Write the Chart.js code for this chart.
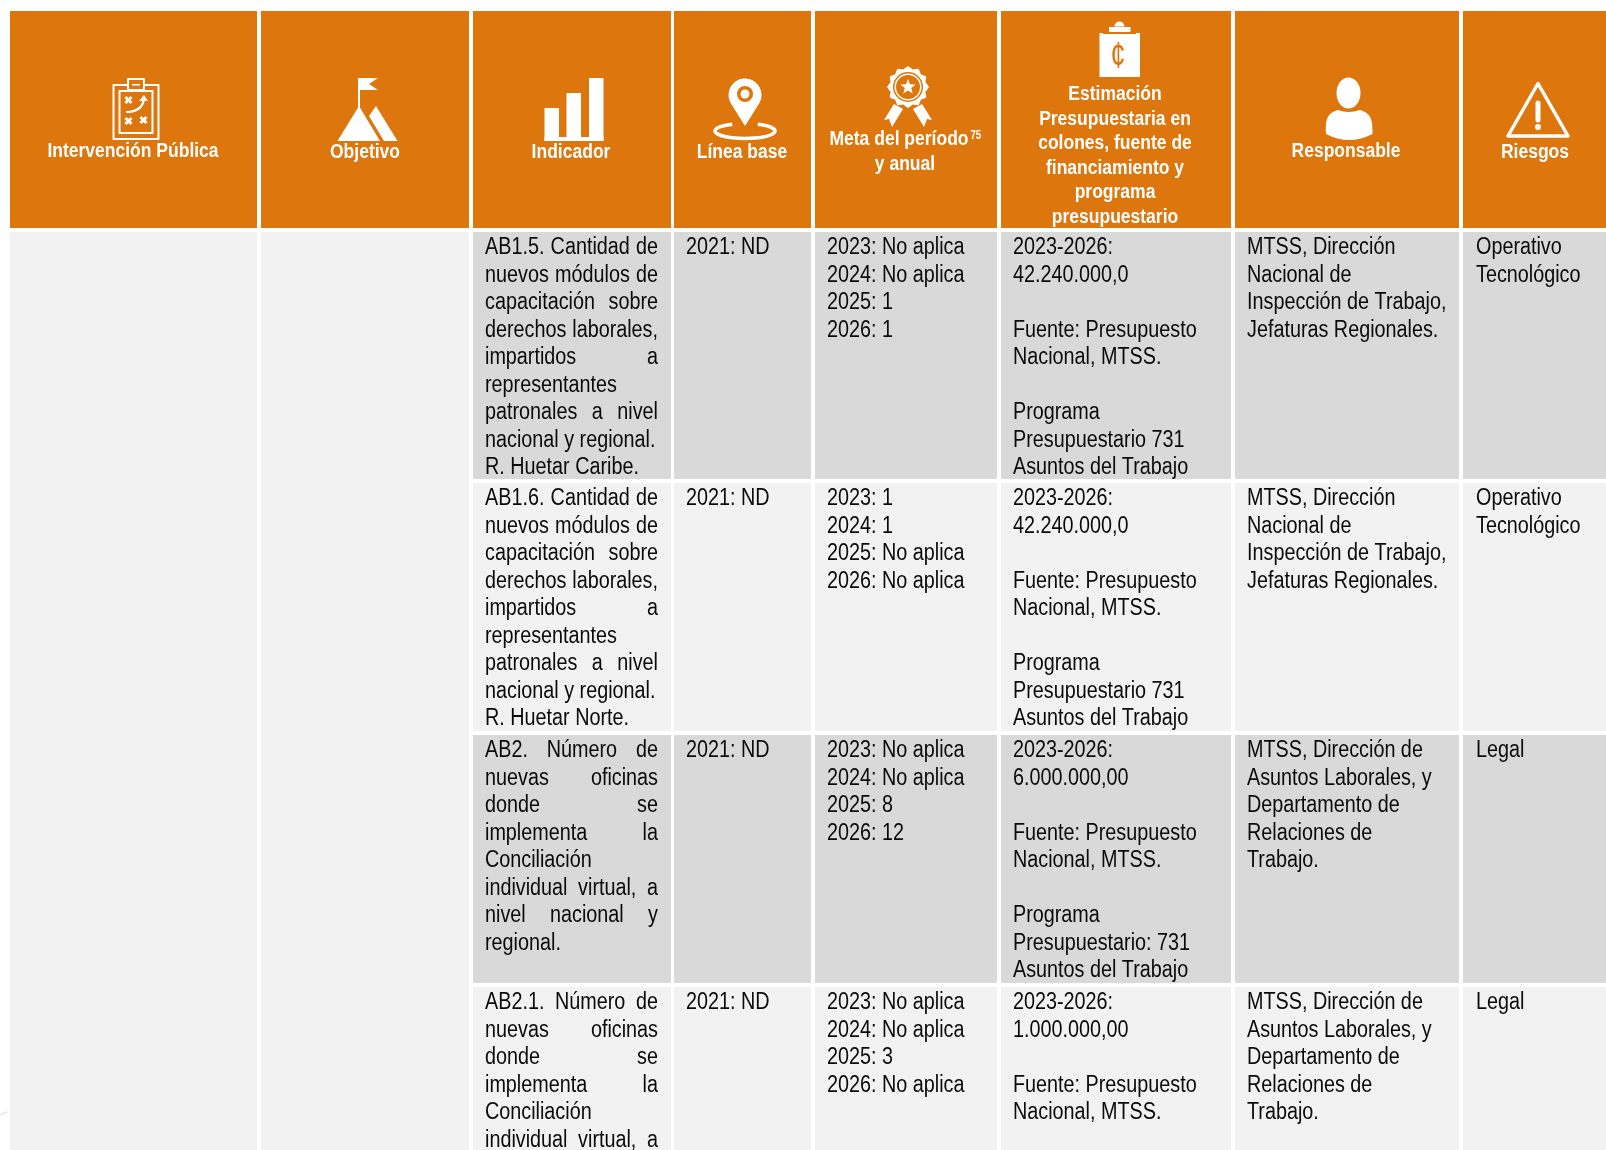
<!DOCTYPE html>
<html lang="es">
<head>
<meta charset="utf-8">
<title>Intervención Pública</title>
<script src="https://cdn.jsdelivr.net/npm/chart.js@4/dist/chart.umd.js"></script>
<style>
  html, body { margin: 0; padding: 0; background: #fff; }
  #wrap { width: 1606px; height: 1150px; overflow: hidden; }
</style>
</head>
<body>
<div id="wrap"><canvas id="tabla" width="1606" height="1150"></canvas></div>
<script>
// Bordes de columnas y filas, en unidades de los ejes
const columnEdges = [[10, 257], [261, 469], [473, 671], [674, 811], [815, 997], [1001, 1231], [1235, 1459], [1463, 1606]];
const rowEdges = [[11, 228], [232, 479], [483, 731], [735, 983], [987, 1150]];
const mergedRowEdges = [[11, 228], [232, 1150]];
const rowFills = ["#DC760D", "#D9D9D9", "#F2F2F2", "#D9D9D9", "#F2F2F2"];
const mergedFills = ["#DC760D", "#F2F2F2"];

const headerLabels = [
  ["Intervención Pública"],
  ["Objetivo"],
  ["Indicador"],
  ["Línea base"],
  ["Meta del período", "y anual"],
  ["Estimación", "Presupuestaria en", "colones, fuente de", "financiamiento y", "programa", "presupuestario"],
  ["Responsable"],
  ["Riesgos"],
];

const indicador = [
  ["AB1.5. Cantidad de", "nuevos módulos de", "capacitación sobre", "derechos laborales,", "impartidos a", "representantes", "patronales a nivel", "nacional y regional.", "R. Huetar Caribe."],
  ["AB1.6. Cantidad de", "nuevos módulos de", "capacitación sobre", "derechos laborales,", "impartidos a", "representantes", "patronales a nivel", "nacional y regional.", "R. Huetar Norte."],
  ["AB2. Número de", "nuevas oficinas", "donde se", "implementa la", "Conciliación", "individual virtual, a", "nivel nacional y", "regional."],
  ["AB2.1. Número de", "nuevas oficinas", "donde se", "implementa la", "Conciliación", "individual virtual, a"],
];
const justifiedLines = [[0, 1, 2, 3, 4, 6], [0, 1, 2, 3, 4, 6], [0, 1, 2, 3, 5, 6], [0, 1, 2, 3, 5]];
const lineaBase = [["2021: ND"], ["2021: ND"], ["2021: ND"], ["2021: ND"]];
const metas = [
  ["2023: No aplica", "2024: No aplica", "2025: 1", "2026: 1"],
  ["2023: 1", "2024: 1", "2025: No aplica", "2026: No aplica"],
  ["2023: No aplica", "2024: No aplica", "2025: 8", "2026: 12"],
  ["2023: No aplica", "2024: No aplica", "2025: 3", "2026: No aplica"],
];
const estimacion = [
  ["2023-2026:", "42.240.000,0", "", "Fuente: Presupuesto", "Nacional, MTSS.", "", "Programa", "Presupuestario 731", "Asuntos del Trabajo"],
  ["2023-2026:", "42.240.000,0", "", "Fuente: Presupuesto", "Nacional, MTSS.", "", "Programa", "Presupuestario 731", "Asuntos del Trabajo"],
  ["2023-2026:", "6.000.000,00", "", "Fuente: Presupuesto", "Nacional, MTSS.", "", "Programa", "Presupuestario: 731", "Asuntos del Trabajo"],
  ["2023-2026:", "1.000.000,00", "", "Fuente: Presupuesto", "Nacional, MTSS."],
];
const responsable = [
  ["MTSS, Dirección", "Nacional de", "Inspección de Trabajo,", "Jefaturas Regionales."],
  ["MTSS, Dirección", "Nacional de", "Inspección de Trabajo,", "Jefaturas Regionales."],
  ["MTSS, Dirección de", "Asuntos Laborales, y", "Departamento de", "Relaciones de", "Trabajo."],
  ["MTSS, Dirección de", "Asuntos Laborales, y", "Departamento de", "Relaciones de", "Trabajo."],
];
const riesgos = [
  ["Operativo", "Tecnológico"],
  ["Operativo", "Tecnológico"],
  ["Legal"],
  ["Legal"],
];

const FONT = '"Liberation Sans", Arial, sans-serif';
const ORANGE = "#DC760D";
const BODY_NARROW = 0.86;
const HEAD_NARROW = 0.875;
const bodyColumns = [[2, indicador], [3, lineaBase], [4, metas], [5, estimacion], [6, responsable], [7, riesgos]];
const headerBaselines = [[157], [157.5], [157.5], [157.5], [145, 170], [100, 124.5, 149, 173.5, 198, 222.5], [157], [157.5]];
const headerCenters = [133, 365, 571, 742, 905, 1115, 1346, 1535];

// Una serie por columna: cada celda es una barra flotante
const datasets = columnEdges.map(([left, right], i) => {
  const rows = i < 2 ? mergedRowEdges : rowEdges;
  return {
    label: headerLabels[i].join(" "),
    data: rows.map(([top, bottom]) => ({ x: (left + right) / 2, y: [top, bottom] })),
    backgroundColor: i < 2 ? mergedFills : rowFills,
    maxBarThickness: right - left,
    barPercentage: 100,
    categoryPercentage: 1,
    grouped: false,
    borderWidth: 0,
  };
});

// No hay fuente estrecha instalada: se comprime en horizontal
function narrowText(ctx, text, px, py, ratio) {
  ctx.save();
  ctx.translate(px, py);
  ctx.scale(ratio, 1);
  ctx.fillText(text, 0, 0);
  ctx.restore();
}

const cellText = {
  id: "cellText",
  afterDatasetsDraw(chart) {
    const { ctx, scales: { x, y } } = chart;
    ctx.save();
    ctx.textBaseline = "alphabetic";

    // Encabezados
    ctx.fillStyle = "#fff";
    ctx.font = `bold 20px ${FONT}`;
    ctx.textAlign = "center";
    headerLabels.forEach((lines, c) => {
      lines.forEach((line, i) => {
        const shift = c === 4 && i === 0 ? -6 : 0;
        narrowText(ctx, line, x.getPixelForValue(headerCenters[c] + shift), y.getPixelForValue(headerBaselines[c][i]), HEAD_NARROW);
      });
    });
    ctx.textAlign = "left";
    ctx.font = `bold 12px ${FONT}`;
    narrowText(ctx, "75", x.getPixelForValue(970.5), y.getPixelForValue(139), 0.8);

    // Cuerpo
    ctx.fillStyle = "#0a0a0a";
    ctx.font = `23px ${FONT}`;
    bodyColumns.forEach(([c, rows]) => {
      const left = columnEdges[c][0] + (c === 7 ? 13 : 12);
      const right = columnEdges[c][1] - 13;
      rows.forEach((lines, r) => {
        lines.forEach((line, i) => {
          const py = y.getPixelForValue(rowEdges[r + 1][0] + 22 + i * 27.5);
          const words = line.split(" ");
          if (c === 2 && justifiedLines[r].includes(i) && words.length > 1) {
            const widths = words.map((w) => ctx.measureText(w).width * BODY_NARROW);
            const used = widths.reduce((sum, w) => sum + w, 0);
            const gap = (right - left - used) / (words.length - 1);
            let px = left;
            words.forEach((w, k) => {
              narrowText(ctx, w, x.getPixelForValue(px), py, BODY_NARROW);
              px += widths[k] + gap;
            });
          } else {
            narrowText(ctx, line, x.getPixelForValue(left), py, BODY_NARROW);
          }
        });
      });
    });
    ctx.restore();
  },
};

function drawX(ctx, cx, cy, s) {
  ctx.beginPath();
  ctx.moveTo(cx - s, cy - s); ctx.lineTo(cx + s, cy + s);
  ctx.moveTo(cx + s, cy - s); ctx.lineTo(cx - s, cy + s);
  ctx.stroke();
}

const headerIcons = {
  id: "headerIcons",
  afterDatasetsDraw(chart) {
    const { ctx } = chart;
    ctx.save();
    ctx.fillStyle = "#fff";
    ctx.strokeStyle = "#fff";
    ctx.lineJoin = "round";

    // Tablero de estrategia
    ctx.lineWidth = 2;
    ctx.strokeRect(113.5, 85, 45, 54);
    ctx.strokeRect(119.5, 91, 33, 42);
    ctx.fillStyle = ORANGE;
    ctx.fillRect(128, 79, 16, 11);
    ctx.strokeRect(128, 79, 16, 11);
    ctx.fillStyle = "#fff";
    ctx.fillRect(132, 84, 8, 1.5);
    ctx.lineWidth = 3;
    drawX(ctx, 128.5, 100, 3);
    drawX(ctx, 128.5, 121, 3);
    drawX(ctx, 143.5, 120, 3);
    ctx.lineWidth = 2.2;
    ctx.beginPath();
    ctx.moveTo(126, 112);
    ctx.quadraticCurveTo(142, 112, 144, 99);
    ctx.stroke();
    ctx.beginPath();
    ctx.moveTo(139, 101); ctx.lineTo(144, 95); ctx.lineTo(148, 101);
    ctx.closePath(); ctx.fill();

    // Montaña con bandera
    ctx.beginPath();
    ctx.moveTo(337.5, 141); ctx.lineTo(359, 106); ctx.lineTo(380, 141);
    ctx.closePath(); ctx.fill();
    ctx.beginPath();
    ctx.moveTo(369, 116); ctx.lineTo(376, 106); ctx.lineTo(397.5, 141); ctx.lineTo(384, 141);
    ctx.closePath(); ctx.fill();
    ctx.fillRect(358, 78, 2, 30);
    ctx.beginPath();
    ctx.moveTo(358, 78); ctx.lineTo(378, 78); ctx.lineTo(369, 84); ctx.lineTo(378, 90); ctx.lineTo(358, 90);
    ctx.closePath(); ctx.fill();

    // Barras del indicador
    ctx.fillRect(544.5, 108, 14.5, 33);
    ctx.fillRect(566.5, 93, 14.5, 48);
    ctx.fillRect(589, 78, 14.5, 63);
    ctx.fillRect(544.5, 137, 59, 4);

    // Pin de ubicación
    ctx.beginPath();
    ctx.arc(745, 95, 16.5, Math.PI * 0.85, Math.PI * 0.15);
    ctx.lineTo(745, 126);
    ctx.closePath(); ctx.fill();
    ctx.fillStyle = ORANGE;
    ctx.beginPath(); ctx.arc(745, 94, 8, 0, Math.PI * 2); ctx.fill();
    ctx.fillStyle = "#fff";
    ctx.beginPath(); ctx.arc(745, 94, 4.5, 0, Math.PI * 2); ctx.fill();
    ctx.lineWidth = 3.5;
    ctx.beginPath();
    ctx.ellipse(745, 131, 30, 7.5, 0, -Math.PI * 0.36, -Math.PI * 0.64);
    ctx.stroke();

    // Medalla
    const mx = 908, my = 87;
    ctx.beginPath();
    ctx.moveTo(884, 120); ctx.lineTo(894, 104); ctx.lineTo(903, 109); ctx.lineTo(892, 127); ctx.lineTo(889, 119);
    ctx.closePath(); ctx.fill();
    ctx.beginPath();
    ctx.moveTo(932, 120); ctx.lineTo(922, 104); ctx.lineTo(913, 109); ctx.lineTo(924, 127); ctx.lineTo(927, 119);
    ctx.closePath(); ctx.fill();
    ctx.beginPath();
    for (let a = 0; a < 48; a++) {
      const t = (a / 48) * Math.PI * 2;
      const r = 19.5 + 1.5 * Math.cos(t * 12);
      ctx.lineTo(mx + r * Math.cos(t), my + r * Math.sin(t));
    }
    ctx.closePath(); ctx.fill();
    ctx.fillStyle = ORANGE;
    ctx.beginPath(); ctx.arc(mx, my, 15, 0, Math.PI * 2); ctx.fill();
    ctx.fillStyle = "#fff";
    ctx.beginPath(); ctx.arc(mx, my, 13.5, 0, Math.PI * 2); ctx.fill();
    ctx.fillStyle = ORANGE;
    ctx.beginPath(); ctx.arc(mx, my, 12, 0, Math.PI * 2); ctx.fill();
    ctx.fillStyle = "#fff";
    ctx.beginPath();
    for (let a = 0; a < 10; a++) {
      const t = -Math.PI / 2 + (a / 10) * Math.PI * 2;
      const r = a % 2 ? 3.4 : 8;
      ctx.lineTo(mx + r * Math.cos(t), my + r * Math.sin(t));
    }
    ctx.closePath(); ctx.fill();

    // Portapapeles con colón
    ctx.fillRect(1099.5, 33, 40.5, 44);
    ctx.fillStyle = ORANGE;
    ctx.fillRect(1103, 32, 33, 2);
    ctx.fillStyle = "#fff";
    ctx.fillRect(1109, 27, 21.5, 5);
    ctx.beginPath(); ctx.arc(1119.5, 26.5, 5, Math.PI, 0); ctx.fill();
    ctx.fillStyle = ORANGE;
    ctx.textAlign = "center";
    ctx.textBaseline = "alphabetic";
    ctx.font = `36px ${FONT}`;
    narrowText(ctx, "¢", 1118, 68, 0.75);

    // Persona
    ctx.fillStyle = "#fff";
    ctx.beginPath(); ctx.ellipse(1348.5, 93, 12, 15.5, 0, 0, Math.PI * 2); ctx.fill();
    ctx.beginPath();
    ctx.moveTo(1326, 134);
    ctx.bezierCurveTo(1325, 118, 1328, 113, 1338, 110);
    ctx.quadraticCurveTo(1348, 114, 1360, 110);
    ctx.bezierCurveTo(1370, 113, 1373, 118, 1372.5, 134);
    ctx.quadraticCurveTo(1349, 146, 1326, 134);
    ctx.closePath(); ctx.fill();

    // Advertencia
    ctx.lineWidth = 3.5;
    ctx.beginPath();
    ctx.moveTo(1538, 83.5); ctx.lineTo(1568, 136); ctx.lineTo(1508, 136);
    ctx.closePath(); ctx.stroke();
    ctx.lineCap = "round";
    ctx.lineWidth = 5;
    ctx.beginPath(); ctx.moveTo(1538, 103); ctx.lineTo(1538, 120); ctx.stroke();
    ctx.beginPath(); ctx.arc(1538, 127, 3, 0, Math.PI * 2); ctx.fill();

    // Marca tenue en el borde izquierdo
    ctx.strokeStyle = "#dcdcdc";
    ctx.lineWidth = 1;
    ctx.beginPath(); ctx.moveTo(0, 1115); ctx.lineTo(7, 1112); ctx.stroke();
    ctx.restore();
  },
};

new Chart(document.getElementById("tabla"), {
  type: "bar",
  data: { datasets },
  options: {
    responsive: false,
    animation: false,
    events: [],
    layout: { padding: 0 },
    plugins: { legend: { display: false }, tooltip: { enabled: false } },
    scales: {
      x: { type: "linear", min: 0, max: 1606, offset: false, display: false },
      y: { type: "linear", min: 0, max: 1150, reverse: true, display: false },
    },
  },
  plugins: [cellText, headerIcons],
});
</script>
</body>
</html>
